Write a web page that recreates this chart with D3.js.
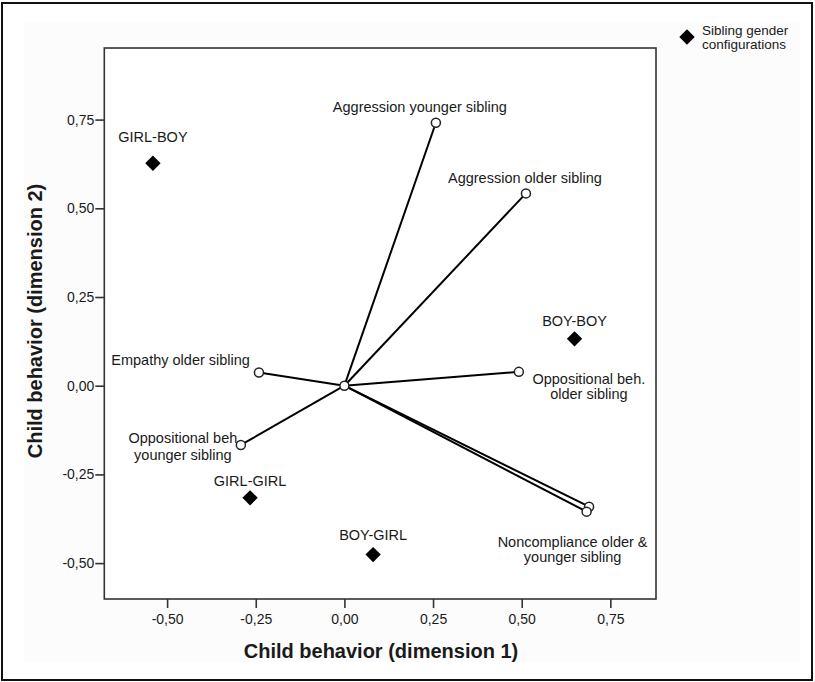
<!DOCTYPE html>
<html>
<head>
<meta charset="utf-8">
<script src="https://cdn.jsdelivr.net/npm/d3@7"></script>
<style>
  body { margin: 0; background: #fff; }
  text { font-family: "Liberation Sans", Arial, sans-serif; fill: #1a1a1a; }
</style>
</head>
<body>
<div id="viz-container"></div>
<script>
// behavior variables (vectors from origin)
var behaviors = ["Aggression younger sibling", "Aggression older sibling", "Empathy older sibling",
	"Oppositional beh. younger sibling", "Oppositional beh. older sibling",
	"Noncompliance older sibling", "Noncompliance younger sibling"];
var behaviorX = [0.258, 0.512, -0.241, -0.292, 0.492, 0.690, 0.683];
var behaviorY = [0.741, 0.542, 0.037, -0.167, 0.039, -0.341, -0.355];

// sibling gender configurations (diamonds)
var configs = ["GIRL-BOY", "BOY-BOY", "GIRL-GIRL", "BOY-GIRL"];
var configX = [-0.540, 0.649, -0.266, 0.081];
var configY = [0.627, 0.132, -0.316, -0.476];

var tickValues = [-0.5, -0.25, 0, 0.25, 0.5, 0.75];
var xTitle = "Child behavior (dimension 1)";
var yTitle = "Child behavior (dimension 2)";
var legendLines = ["Sibling gender", "configurations"];

// label placement relative to the point: lines, dx, dy of first line, line height, anchor
var behaviorLabels = [
	{ lines: ["Aggression younger sibling"], dx: -16, dy: -16, lh: 0, anchor: "middle" },
	{ lines: ["Aggression older sibling"], dx: -1, dy: -15, lh: 0, anchor: "middle" },
	{ lines: ["Empathy older sibling"], dx: -9, dy: -13, lh: 0, anchor: "end" },
	{ lines: ["Oppositional beh", "younger sibling"], dx: -58, dy: -7, lh: 16.5, anchor: "middle" },
	{ lines: ["Oppositional beh.", "older sibling"], dx: 70, dy: 7, lh: 15, anchor: "middle" },
	null,
	{ lines: ["Noncompliance older &", "younger sibling"], dx: -14, dy: 30, lh: 15, anchor: "middle" }
];
var configLabelDy = [-26, -18, -17, -20];

var generalWidth = 815;
var generalHeight = 682;
var plotLeft = 104.3, plotRight = 656, plotTop = 48, plotBottom = 599;

var svg = d3.select("#viz-container").append("svg")
	.attr("width", generalWidth)
	.attr("height", generalHeight);

// outer frame and the light chart area
svg.append("rect")
	.attr("x", 2).attr("y", 3).attr("width", 810).attr("height", 677)
	.attr("fill", "#fff").attr("stroke", "#111").attr("stroke-width", 2);
svg.append("rect")
	.attr("x", 24).attr("y", 22).attr("width", 776).attr("height", 640)
	.attr("fill", "#fcfcfc");

var x = d3.scaleLinear()
	.domain([(plotLeft - 344.4) / 354.6, (plotRight - 344.4) / 354.6])
	.range([plotLeft, plotRight]);
var y = d3.scaleLinear()
	.domain([(385.7 - plotBottom) / 354.8, (385.7 - plotTop) / 354.8])
	.range([plotBottom, plotTop]);

svg.append("rect")
	.attr("x", plotLeft).attr("y", plotTop)
	.attr("width", plotRight - plotLeft).attr("height", plotBottom - plotTop)
	.attr("fill", "#fff").attr("stroke", "#333").attr("stroke-width", 1.6);

function fmt(d) { return d3.format(".2f")(d).replace("\u2212", "-").replace(".", ","); }

var xAxis = svg.append("g")
	.attr("transform", "translate(0," + plotBottom + ")")
	.call(d3.axisBottom(x).tickValues(tickValues).tickFormat(fmt).tickSize(9).tickPadding(6));
var yAxis = svg.append("g")
	.attr("transform", "translate(" + plotLeft + ",0)")
	.call(d3.axisLeft(y).tickValues(tickValues).tickFormat(fmt).tickSize(9).tickPadding(1));
[xAxis, yAxis].forEach(function(a) {
	a.select(".domain").remove();
	a.selectAll(".tick line").attr("stroke", "#333").attr("stroke-width", 1.6);
	a.selectAll(".tick text").attr("font-size", 14).attr("font-family", "Liberation Sans, Arial, sans-serif").attr("fill", "#1a1a1a");
});

svg.append("text")
	.attr("x", 381).attr("y", 658)
	.attr("text-anchor", "middle")
	.attr("font-size", 20).attr("font-weight", "bold")
	.text(xTitle);
svg.append("text")
	.attr("transform", "translate(42,321) rotate(-90)")
	.attr("text-anchor", "middle")
	.attr("font-size", 20).attr("font-weight", "bold")
	.text(yTitle);

// vectors
var vectors = behaviors.map(function(b, i) { return { label: b, x: behaviorX[i], y: behaviorY[i], lab: behaviorLabels[i] }; });

svg.selectAll("line.vec")
	.data(vectors)
	.enter()
	.append("line")
	.attr("class", "vec")
	.attr("x1", x(0)).attr("y1", y(0))
	.attr("x2", function(d) { return x(d.x); })
	.attr("y2", function(d) { return y(d.y); })
	.attr("stroke", "#000").attr("stroke-width", 2);

svg.selectAll("circle.vec")
	.data(vectors.concat([{ x: 0, y: 0 }]))
	.enter()
	.append("circle")
	.attr("class", "vec")
	.attr("cx", function(d) { return x(d.x); })
	.attr("cy", function(d) { return y(d.y); })
	.attr("r", 4.5)
	.attr("fill", "#fff").attr("stroke", "#222").attr("stroke-width", 1.5);

vectors.forEach(function(d) {
	if (!d.lab) return;
	var t = svg.append("text")
		.attr("text-anchor", d.lab.anchor)
		.attr("font-size", 14.5);
	d.lab.lines.forEach(function(line, j) {
		t.append("tspan")
			.attr("x", x(d.x) + d.lab.dx)
			.attr("y", y(d.y) + d.lab.dy + j * d.lab.lh)
			.attr("dy", "0.35em")
			.text(line);
	});
});

// diamonds
var diamond = d3.symbol().type(d3.symbolSquare).size(118);
var points = configs.map(function(c, i) { return { label: c, x: configX[i], y: configY[i], dy: configLabelDy[i] }; });

svg.selectAll("path.config")
	.data(points)
	.enter()
	.append("path")
	.attr("class", "config")
	.attr("d", diamond)
	.attr("transform", function(d) { return "translate(" + x(d.x) + "," + y(d.y) + ") rotate(45)"; })
	.attr("fill", "#000");

svg.selectAll("text.config")
	.data(points)
	.enter()
	.append("text")
	.attr("class", "config")
	.attr("x", function(d) { return x(d.x); })
	.attr("y", function(d) { return y(d.y) + d.dy; })
	.attr("dy", "0.35em")
	.attr("text-anchor", "middle")
	.attr("font-size", 14.5)
	.text(function(d) { return d.label; });

// legend
svg.append("path")
	.attr("d", diamond)
	.attr("transform", "translate(687,37) rotate(45)")
	.attr("fill", "#000");
svg.selectAll("text.legend")
	.data(legendLines)
	.enter()
	.append("text")
	.attr("class", "legend")
	.attr("x", 702)
	.attr("y", function(d, i) { return 30 + i * 14.5; })
	.attr("dy", "0.35em")
	.attr("font-size", 13.5)
	.text(function(d) { return d; });
</script>
</body>
</html>
